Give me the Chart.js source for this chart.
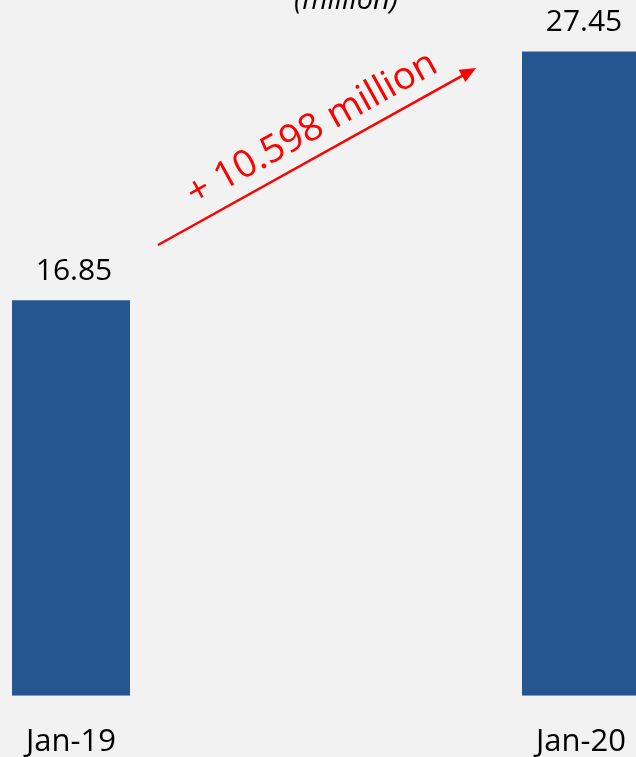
<!DOCTYPE html>
<html>
<head>
<meta charset="utf-8">
<script src="https://cdn.jsdelivr.net/npm/chart.js@4.4.1/dist/chart.umd.min.js"></script>
<style>
    html, body {
        margin: 0;
        padding: 0;
        width: 636px;
        height: 757px;
        overflow: hidden;
        background: #f2f2f2;
    }
    #wrap {
        position: relative;
        width: 636px;
        height: 757px;
        overflow: hidden;
    }
    #chart {
        position: absolute;
        left: -184px;
        top: 0;
    }
</style>
</head>
<body>
<div id="wrap">
    <canvas id="chart" width="1020" height="789"></canvas>
</div>
<script>
// Subscribers (million)
const categories = ['Jan-19', 'Jan-20'];
const subscribers = [16.85, 27.45];
const changeLabel = '+ 10.598 million';
const unitLabel = '(million)';

const BAR_COLOR = '#25568f';
const FONT = '"Open Sans", "Noto Sans", sans-serif';
const OFFSET_X = 184; // canvas is shifted left, page x + OFFSET_X = canvas x

/**
 * Value labels above bars, unit caption and the growth arrow
 */
const annotations = {
    id: 'annotations',
    afterDatasetsDraw(chart) {
        const ctx = chart.ctx;
        const meta = chart.getDatasetMeta(0);

        ctx.save();
        ctx.fillStyle = '#000';
        ctx.font = '30px ' + FONT;
        ctx.textAlign = 'center';
        ctx.textBaseline = 'middle';
        meta.data.forEach((bar, i) => {
            ctx.fillText(subscribers[i].toFixed(2), bar.x + 3, bar.y - 29);
        });

        // cut-off unit caption
        ctx.font = 'italic 29px ' + FONT;
        ctx.textBaseline = 'alphabetic';
        ctx.fillText(unitLabel, 346 + OFFSET_X, 9);

        // arrow
        const x0 = 158 + OFFSET_X, y0 = 245;
        const x1 = 476 + OFFSET_X, y1 = 68;
        const ang = Math.atan2(y1 - y0, x1 - x0);
        ctx.strokeStyle = '#ff0000';
        ctx.fillStyle = '#ff0000';
        ctx.lineWidth = 2.5;
        ctx.beginPath();
        ctx.moveTo(x0, y0);
        ctx.lineTo(x1 - 12 * Math.cos(ang), y1 - 12 * Math.sin(ang));
        ctx.stroke();
        ctx.beginPath();
        ctx.moveTo(x1, y1);
        ctx.lineTo(x1 - 16 * Math.cos(ang) + 7 * Math.sin(ang), y1 - 16 * Math.sin(ang) - 7 * Math.cos(ang));
        ctx.lineTo(x1 - 16 * Math.cos(ang) - 7 * Math.sin(ang), y1 - 16 * Math.sin(ang) + 7 * Math.cos(ang));
        ctx.closePath();
        ctx.fill();

        // rotated change label
        ctx.translate(312 + OFFSET_X, 129);
        ctx.rotate(-29 * Math.PI / 180);
        ctx.font = '38px ' + FONT;
        ctx.textAlign = 'center';
        ctx.textBaseline = 'middle';
        ctx.fillText(changeLabel, 0, 0);
        ctx.restore();
    }
};

const ctx = document.getElementById('chart').getContext('2d');

new Chart(ctx, {
    type: 'bar',
    data: {
        labels: categories,
        datasets: [{
            data: subscribers,
            backgroundColor: BAR_COLOR,
            borderWidth: 0,
            categoryPercentage: 1,
            barPercentage: 0.2314
        }]
    },
    options: {
        responsive: false,
        animation: false,
        layout: {
            padding: { top: 15, left: 0, right: 0, bottom: 0 }
        },
        plugins: {
            legend: { display: false },
            tooltip: { enabled: false }
        },
        scales: {
            x: {
                grid: { display: false, drawTicks: false },
                border: { display: false },
                ticks: {
                    color: '#000',
                    padding: 28,
                    font: { family: FONT, size: 31 }
                }
            },
            y: {
                display: false,
                min: 0,
                max: 29
            }
        }
    },
    plugins: [annotations]
});
</script>
</body>
</html>
